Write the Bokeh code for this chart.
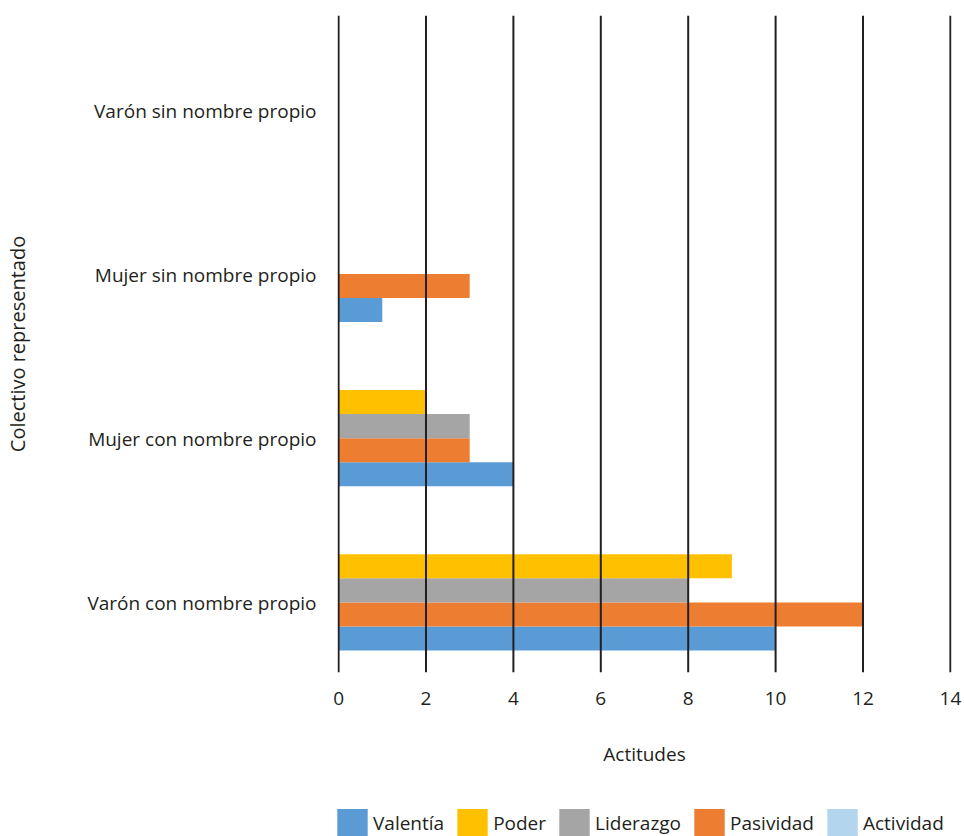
from bokeh.plotting import figure
from bokeh.layouts import column
from bokeh.models import Range1d, FixedTicker, Legend, LegendItem, Span
from bokeh.embed import file_html
from bokeh.resources import INLINE

# ---- data ----
categories = ["Varón con nombre propio", "Mujer con nombre propio",
              "Mujer sin nombre propio", "Varón sin nombre propio"]
valentia = [10, 4, 1, 0]
pasividad = [12, 3, 3, 0]
liderazgo = [8, 3, 0, 0]
poder = [9, 2, 0, 0]
actividad = [0, 0, 0, 0]
x_ticks = [0, 2, 4, 6, 8, 10, 12, 14]
legend_order = ["Valentía", "Poder", "Liderazgo", "Pasividad", "Actividad"]

# bottom-to-top order of bars inside a cluster
series = [("Valentía", valentia, "#5B9BD5"),
          ("Pasividad", pasividad, "#ED7D31"),
          ("Liderazgo", liderazgo, "#A5A5A5"),
          ("Poder", poder, "#FFC000"),
          ("Actividad", actividad, "#B4D5EE")]
colors = {n: c for n, _, c in series}

FONT = "Open Sans"
TXT = "#231f20"
FS = "19px"

gap = 1.82
h = 1.0 / (len(series) + gap)      # bar thickness (category units)
d = 13 / 164.25                    # label sits slightly below cluster centre
pad = 0.025                        # keeps edge gridlines fully visible

BL, BR = 337, 13

p = figure(frame_width=614, frame_height=657,
           x_range=Range1d(x_ticks[0] - pad, x_ticks[-1] + pad),
           y_range=Range1d(-0.5 + d, 3.5 + d),
           output_backend="svg", toolbar_location=None,
           min_border_left=BL, min_border_right=BR, min_border_top=15,
           min_border_bottom=133)

for k, (name, vals, col) in enumerate(series):
    off = (k - 2) * h
    ys = [i + d + off for i in range(len(categories))]
    p.hbar(y=ys, left=0, right=vals, height=h, fill_color=col, line_color=None)

# vertical gridlines (drawn above bars)
for t in x_ticks:
    p.add_layout(Span(location=t, dimension="height", line_color=TXT, line_width=2))

# axes
p.xaxis.ticker = FixedTicker(ticks=x_ticks)
p.xaxis.axis_line_color = None
p.xaxis.major_tick_line_color = None
p.xaxis.minor_tick_line_color = None
p.xaxis.major_label_standoff = 13
p.xaxis.axis_label = "Actitudes"
p.xaxis.axis_label_standoff = 33

p.yaxis.ticker = FixedTicker(ticks=list(range(len(categories))))
p.yaxis.major_label_overrides = {i: c for i, c in enumerate(categories)}
p.yaxis.axis_line_color = None
p.yaxis.major_tick_line_color = None
p.yaxis.minor_tick_line_color = None
p.yaxis.major_tick_out = 0
p.yaxis.major_tick_in = 0
p.yaxis.major_label_standoff = 21
p.yaxis.axis_label = "Colectivo representado"
p.yaxis.axis_label_standoff = 53

for ax in (p.xaxis[0], p.yaxis[0]):
    ax.major_label_text_font = FONT
    ax.major_label_text_font_size = FS
    ax.major_label_text_color = TXT
    ax.axis_label_text_font = FONT
    ax.axis_label_text_font_size = FS
    ax.axis_label_text_font_style = "normal"
    ax.axis_label_text_color = TXT
p.yaxis.axis_label_text_font_size = "20px"

p.xgrid.grid_line_color = None
p.ygrid.grid_line_color = None
p.outline_line_color = None

# ---- legend strip (same side borders as the chart, so frames line up) ----
lf = figure(frame_width=614, frame_height=31, x_range=Range1d(0, 1), y_range=Range1d(0, 1),
            x_axis_type=None, y_axis_type=None,
            min_border_left=BL, min_border_right=BR, min_border_top=0, min_border_bottom=0,
            output_backend="svg", toolbar_location=None)
lf.outline_line_color = None
lf.xgrid.grid_line_color = None
lf.ygrid.grid_line_color = None
items = []
for n in legend_order:
    # zero-size bar: only its legend swatch is seen
    r = lf.hbar(y=[0], left=[0], right=[0], height=0, fill_color=colors[n], line_color=None)
    items.append(LegendItem(label=n, renderers=[r]))
legend = Legend(items=items, orientation="horizontal", location=(-4, -4),
                label_text_font=FONT, label_text_font_size=FS,
                label_text_color=TXT, glyph_width=38, glyph_height=35,
                label_standoff=2, spacing=9, padding=0, margin=0,
                border_line_color=None, background_fill_alpha=0)
lf.add_layout(legend, "center")

layout = column(p, lf, spacing=0)
open("out.html", "w").write(file_html(layout, INLINE))
